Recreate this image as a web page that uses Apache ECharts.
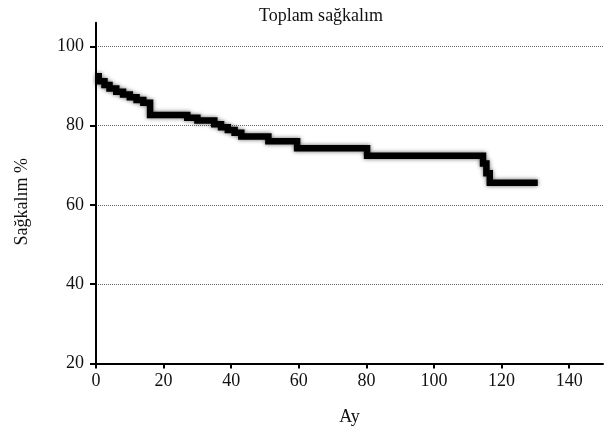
<!DOCTYPE html>
<html>
<head>
<meta charset="utf-8">
<script src="https://cdn.jsdelivr.net/npm/echarts@6/dist/echarts.min.js"></script>
<style>html,body{margin:0;padding:0;background:#fff}#c{width:608px;height:432px}</style>
</head>
<body>
<div id="c"></div>
<script>
// Data
const months   = [0, 0.8, 2.5, 4, 6, 8, 10, 12, 14, 16, 27, 30, 35, 37, 39, 41, 43, 51, 59.5, 80.2, 114.5, 115.5, 116.5, 130.7];
const survival = [92.5, 91.2, 90.3, 89.4, 88.6, 87.9, 87.2, 86.5, 85.8, 82.7, 82.0, 81.3, 80.4, 79.6, 78.9, 78.2, 77.3, 76.1, 74.3, 72.4, 70.5, 68.0, 65.6, 65.6];
const xTicks = [0, 20, 40, 60, 80, 100, 120, 140];
const yTicks = [20, 40, 60, 80, 100];
const titleText = 'Toplam sağkalım';
const xName = 'Ay';
const yName = 'Sağkalım %';

const font = '"Liberation Serif","DejaVu Serif",serif';
const chart = echarts.init(document.getElementById('c'));
chart.setOption({
  animation: false,
  backgroundColor: '#fff',
  title: {
    text: titleText, left: 316, top: 2, textAlign: 'center',
    textStyle: { fontFamily: font, fontSize: 18, fontWeight: 'normal', color: '#111' }
  },
  grid: { left: 96, right: 5, top: 22.7, bottom: 68.5 },
  xAxis: {
    type: 'value', min: 0, max: 150, interval: 20,
    name: xName, nameLocation: 'middle', nameGap: 45,
    nameTextStyle: { fontFamily: font, fontSize: 18, color: '#111' },
    axisLine: { show: true, lineStyle: { color: '#000', width: 2 } },
    axisTick: { show: true, length: 5, customValues: xTicks, lineStyle: { color: '#000', width: 2 } },
    axisLabel: { customValues: xTicks, fontFamily: font, fontSize: 18, color: '#111', margin: 9 },
    splitLine: { show: false }
  },
  yAxis: {
    type: 'value', min: 20, max: 106, interval: 20,
    axisLine: { show: true, onZero: false, lineStyle: { color: '#000', width: 2 } },
    axisTick: { show: true, length: 6, customValues: yTicks, lineStyle: { color: '#000', width: 2 } },
    axisLabel: { customValues: yTicks, fontFamily: font, fontSize: 18, color: '#111', margin: 12 },
    splitLine: { show: true, customValues: yTicks, lineStyle: { color: '#666', width: 1, type: [1, 1] } }
  },
  graphic: [{
    type: 'text', left: 13, top: 158, rotation: Math.PI / 2,
    style: { text: yName, font: '18px ' + font, fill: '#111' }
  }],
  series: [{
    type: 'line', step: 'end', data: months.map((m, i) => [m, survival[i]]),
    symbol: 'none',
    lineStyle: { color: '#000', width: 6.5, shadowBlur: 4, shadowColor: 'rgba(0,0,0,0.6)', join: 'miter' },
    z: 3
  }]
});
</script>
</body>
</html>
